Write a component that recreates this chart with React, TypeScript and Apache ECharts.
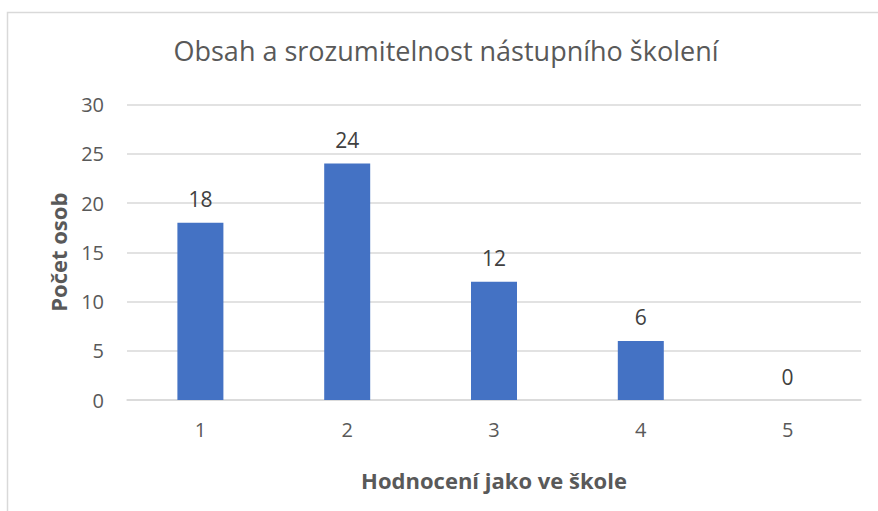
import React, { useEffect, useRef } from "react";
import * as echarts from "echarts";

const categories = ["1", "2", "3", "4", "5"];
const values = [18, 24, 12, 6, 0];
const titleText = "Obsah a srozumitelnost nástupního školení";
const xTitle = "Hodnocení jako ve škole";
const yTitle = "Počet osob";

export default function App() {
  const ref = useRef<HTMLDivElement>(null);
  useEffect(() => {
    if (!ref.current) return;
    const chart = echarts.init(ref.current, undefined, { renderer: "svg" });
    const font = "'Open Sans', 'Noto Sans', sans-serif";
    chart.setOption({
      animation: false,
      backgroundColor: "#ffffff",
      textStyle: { fontFamily: font },
      title: {
        text: titleText,
        left: 441,
        top: 32,
        textAlign: "center",
        textStyle: { fontFamily: font, fontSize: 27, fontWeight: "normal", color: "#595959" },
      },
      graphic: [
        {
          type: "rect",
          shape: { x: 7.5, y: 12.5, width: 900, height: 600 },
          style: { fill: "none", stroke: "#d9d9d9", lineWidth: 1.5 },
          silent: true,
        },
      ],
      grid: { left: 127, right: 17, top: 104.5, bottom: 111 },
      xAxis: {
        type: "category",
        data: categories,
        name: xTitle,
        nameLocation: "middle",
        nameGap: 69,
        nameTextStyle: { fontFamily: font, fontSize: 22, fontWeight: "bold", color: "#595959" },
        axisLine: { show: true, lineStyle: { color: "#d9d9d9", width: 1.5 } },
        axisTick: { show: false },
        axisLabel: { fontFamily: font, fontSize: 20, color: "#595959", margin: 19 },
      },
      yAxis: {
        type: "value",
        min: 0,
        max: 30,
        interval: 5,
        name: yTitle,
        nameLocation: "middle",
        nameGap: 58,
        nameTextStyle: { fontFamily: font, fontSize: 22, fontWeight: "bold", color: "#595959" },
        axisLine: { show: false },
        axisTick: { show: false },
        splitLine: { lineStyle: { color: "#d9d9d9", width: 1.5 } },
        axisLabel: { fontFamily: font, fontSize: 20, color: "#595959", margin: 23 },
      },
      series: [
        {
          type: "bar",
          data: values,
          barWidth: 46,
          itemStyle: { color: "#4472c4" },
          label: {
            show: true,
            position: "top",
            distance: 13,
            fontFamily: font,
            fontSize: 21,
            color: "#404040",
          },
        },
      ],
    });
    return () => chart.dispose();
  }, []);
  return (
    <div
      ref={ref}
      style={{ position: "absolute", left: 0, top: 0, width: 878, height: 511 }}
    />
  );
}
